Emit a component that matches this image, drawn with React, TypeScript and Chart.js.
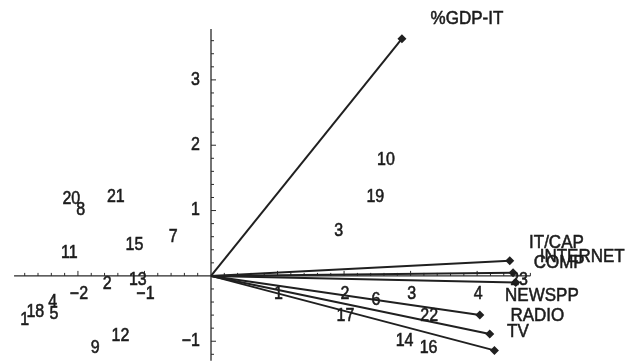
import React, { useEffect, useRef } from "react";
import { Chart, registerables } from "chart.js";

Chart.register(...registerables);

// ---- Data ----
const vectorNames = ["%GDP-IT", "IT/CAP", "INTERNET", "COMP", "NEWSPP", "RADIO", "TV"];
const vectorX = [2.87, 4.49, 4.54, 4.58, 4.04, 4.19, 4.26];
const vectorY = [3.63, 0.23, 0.05, -0.1, -0.6, -0.89, -1.14];
// label anchor (left edge, vertical middle) in data units
const vectorLabelX = [3.3, 4.78, 4.94, 4.85, 4.42, 4.5, 4.45];
const vectorLabelY = [3.93, 0.51, 0.3, 0.2, -0.31, -0.61, -0.86];

const pointNames = [
  "1", "2", "3", "4", "5", "6", "7", "8", "9", "10", "11", "12",
  "13", "14", "15", "16", "17", "18", "19", "20", "21", "22", "23",
];
const pointX = [
  -2.8, -1.56, 1.92, -2.38, -2.36, 2.48, -0.57, -1.96, -1.74, 2.63, -2.13, -1.36,
  -1.1, 2.91, -1.15, 3.27, 2.02, -2.64, 2.47, -2.1, -1.43, 3.28, 4.63,
];
const pointY = [
  -0.68, -0.13, 0.69, -0.4, -0.58, -0.37, 0.59, 1.0, -1.11, 1.77, 0.35, -0.92,
  -0.06, -0.99, 0.47, -1.1, -0.61, -0.55, 1.2, 1.17, 1.21, -0.61, -0.06,
];

const xTicks = [-2, -1, 1, 2, 3, 4];
const yTicks = [-1, 1, 2, 3];
const xAxisRange = [-2.96, 4.8];
const yAxisRange = [-1.3, 3.78];

const INK = "#1c1c1c";
const FONT = '"Liberation Sans", Arial, Helvetica, sans-serif';

function drawText(
  ctx: CanvasRenderingContext2D,
  text: string,
  x: number,
  y: number,
  align: CanvasTextAlign,
  size: number
) {
  ctx.save();
  ctx.translate(x, y);
  ctx.scale(1, 1.12);
  ctx.font = `${size}px ${FONT}`;
  ctx.textAlign = align;
  ctx.textBaseline = "middle";
  ctx.fillStyle = INK;
  ctx.strokeStyle = INK;
  ctx.lineWidth = 0.5;
  ctx.fillText(text, 0, 0);
  ctx.strokeText(text, 0, 0);
  ctx.restore();
}

const fmt = (v: number) => String(v).replace("-", "\u2212");

const axesPlugin = {
  id: "biplotAxes",
  beforeDatasetsDraw(chart: any) {
    const ctx: CanvasRenderingContext2D = chart.ctx;
    const xs = chart.scales.x;
    const ys = chart.scales.y;
    const ox = xs.getPixelForValue(0);
    const oy = ys.getPixelForValue(0);
    ctx.save();
    ctx.strokeStyle = "#2a2a2a";
    ctx.lineWidth = 1.3;
    ctx.beginPath();
    ctx.moveTo(xs.getPixelForValue(xAxisRange[0]), oy);
    ctx.lineTo(xs.getPixelForValue(xAxisRange[1]), oy);
    ctx.moveTo(ox, ys.getPixelForValue(yAxisRange[0]));
    ctx.lineTo(ox, ys.getPixelForValue(yAxisRange[1]));
    ctx.stroke();
    ctx.lineWidth = 1;
    ctx.beginPath();
    for (let i = Math.ceil(xAxisRange[0] * 5); i <= Math.floor(xAxisRange[1] * 5); i++) {
      if (i === 0) continue;
      const px = xs.getPixelForValue(i / 5);
      const len = i % 5 === 0 ? 5 : 3;
      ctx.moveTo(px, oy);
      ctx.lineTo(px, oy - len);
    }
    for (let i = Math.ceil(yAxisRange[0] * 5); i <= Math.floor(yAxisRange[1] * 5); i++) {
      if (i === 0) continue;
      const py = ys.getPixelForValue(i / 5);
      const len = i % 5 === 0 ? 5 : 3;
      ctx.moveTo(ox, py);
      ctx.lineTo(ox + len, py);
    }
    ctx.stroke();
    ctx.restore();

    xTicks.forEach((t) => {
      drawText(ctx, fmt(t), xs.getPixelForValue(t) + 1, oy + 18, "center", 16);
    });
    yTicks.forEach((t) => {
      drawText(ctx, fmt(t), ox - 11, ys.getPixelForValue(t), "right", 16);
    });
  },
  afterDatasetsDraw(chart: any) {
    const ctx: CanvasRenderingContext2D = chart.ctx;
    const xs = chart.scales.x;
    const ys = chart.scales.y;
    const metaIdx = chart.data.datasets.findIndex((d: any) => d.label === "points");
    const meta = chart.getDatasetMeta(metaIdx);
    meta.data.forEach((el: any, i: number) => {
      drawText(ctx, pointNames[i], el.x, el.y, "center", 16);
    });
    vectorNames.forEach((name, i) => {
      drawText(
        ctx,
        name,
        xs.getPixelForValue(vectorLabelX[i]),
        ys.getPixelForValue(vectorLabelY[i]),
        "left",
        17
      );
    });
  },
};

export default function App() {
  const ref = useRef<HTMLCanvasElement | null>(null);

  useEffect(() => {
    if (!ref.current) return;
    const W = 629;
    const H = 363;
    const ox = 209.5;
    const oy = 278.3;
    const sx = 67.5;
    const sy = 67;

    const vectorSets = vectorNames.map((name, i) => ({
      label: name,
      data: [
        { x: 0, y: 0 },
        { x: vectorX[i], y: vectorY[i] },
      ],
      showLine: true,
      borderColor: "#202020",
      backgroundColor: "#202020",
      borderWidth: 2,
      pointStyle: "rectRot",
      pointRadius: [0, 4.5],
      pointBorderWidth: 0,
    }));

    const chart = new Chart(ref.current, {
      type: "scatter",
      data: {
        datasets: [
          ...vectorSets,
          {
            label: "points",
            data: pointX.map((x, i) => ({ x, y: pointY[i] })),
            pointRadius: 0,
            showLine: false,
          },
        ],
      } as any,
      options: {
        animation: false,
        responsive: false,
        layout: { padding: 0 },
        plugins: { legend: { display: false }, tooltip: { enabled: false } },
        scales: {
          x: { type: "linear", display: false, min: -ox / sx, max: (W - ox) / sx },
          y: { type: "linear", display: false, min: -(H - oy) / sy, max: oy / sy },
        },
      } as any,
      plugins: [axesPlugin],
    });
    return () => chart.destroy();
  }, []);

  return (
    <div style={{ position: "fixed", left: 0, top: 0, width: 629, height: 363, background: "#ffffff" }}>
      <canvas ref={ref} width={629} height={363} style={{ display: "block" }} />
    </div>
  );
}
